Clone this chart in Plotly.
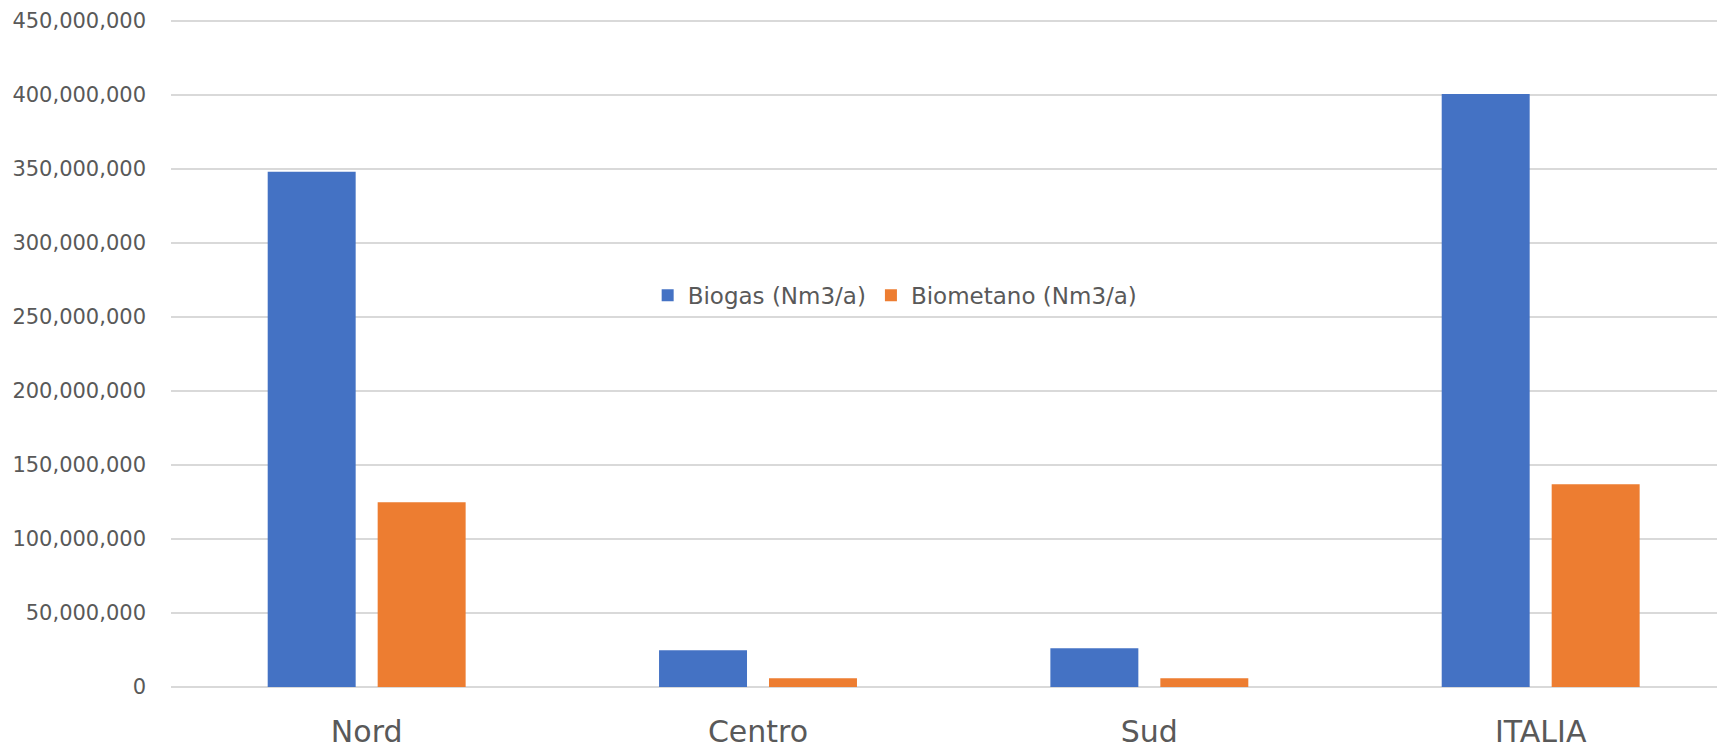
import plotly.graph_objects as go

categories = ["Nord", "Centro", "Sud", "ITALIA"]
biogas = [348.0e6, 24.8e6, 26.1e6, 400.5e6]
biometano = [124.8e6, 5.9e6, 5.9e6, 137.0e6]
series_names = ["Biogas (Nm3/a)", "Biometano (Nm3/a)"]
y_ticks = [0, 50e6, 100e6, 150e6, 200e6, 250e6, 300e6, 350e6, 400e6, 450e6]

BLUE = "#4472C4"
ORANGE = "#ED7D31"
TEXT = "#595959"
GRID = "#D9D9D9"

fig = go.Figure()
fig.add_trace(go.Bar(x=categories, y=biogas, name=series_names[0], marker_color=BLUE,
                     marker_line_width=0))
fig.add_trace(go.Bar(x=categories, y=biometano, name=series_names[1], marker_color=ORANGE,
                     marker_line_width=0))

fig.update_layout(
    width=1717, height=742,
    margin=dict(l=163, r=0, t=11, b=63, autoexpand=False),
    paper_bgcolor="white", plot_bgcolor="white",
    barmode="group", bargap=0.438, bargroupgap=0.2,
    font=dict(family="DejaVu Sans", color=TEXT),
    legend=dict(orientation="h", x=0.466, y=0.5865, xanchor="center", yanchor="middle",
                font=dict(size=23, color=TEXT, family="DejaVu Sans"),
                bgcolor="rgba(0,0,0,0)", itemwidth=30, traceorder="normal"),
    showlegend=True,
)
fig.update_xaxes(type="category", range=[-0.5, 3.471], showgrid=False, showline=False,
                 zeroline=False, ticks="", automargin=False,
                 tickfont=dict(size=30, color=TEXT, family="DejaVu Sans"),
                 ticklabelstandoff=24)
fig.update_yaxes(range=[0, 451.2e6], tickvals=y_ticks, tickformat=",", showgrid=True,
                 gridcolor=GRID, gridwidth=1.5, zeroline=True, zerolinecolor=GRID,
                 zerolinewidth=1.5, showline=False, ticks="", automargin=False,
                 tickfont=dict(size=21, color=TEXT, family="DejaVu Sans"),
                 ticklabelstandoff=24)

fig.write_html("out.html")
